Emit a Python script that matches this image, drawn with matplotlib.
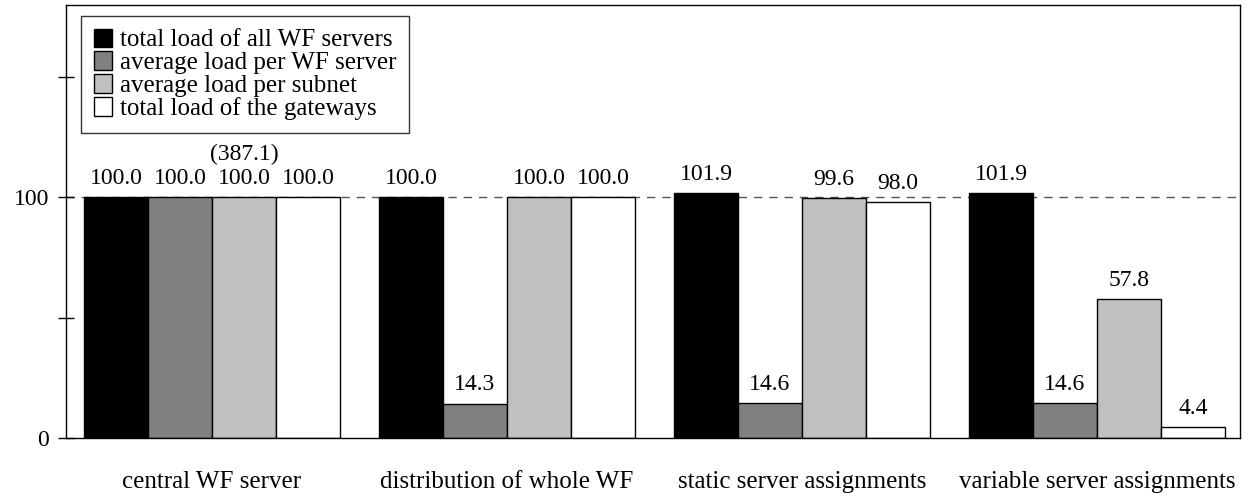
import matplotlib
matplotlib.use("Agg")
import matplotlib.pyplot as plt
import numpy as np
from matplotlib.patches import Patch

plt.rcParams['font.family'] = ['Liberation Serif', 'DejaVu Serif']

categories = ["central WF server", "distribution of whole WF",
              "static server assignments", "variable server assignments"]
series_names = ["total load of all WF servers", "average load per WF server",
                "average load per subnet", "total load of the gateways"]
total_wf = [100.0, 100.0, 101.9, 101.9]
avg_wf = [100.0, 14.3, 14.6, 14.6]
avg_subnet = [100.0, 100.0, 99.6, 57.8]
total_gw = [100.0, 100.0, 98.0, 4.4]
series = [total_wf, avg_wf, avg_subnet, total_gw]
colors = ["#000000", "#808080", "#c0c0c0", "#ffffff"]
extra_label = (0, 2, "(387.1)")

fig = plt.figure(figsize=(12.48, 4.96), dpi=100)
ax = fig.add_axes([66/1248, 1-438/496, (1240-66)/1248, (438-5)/496])

x = np.arange(len(categories))
w = 0.217
ax.axhline(100, color="#555555", linestyle=(0, (6, 5)), linewidth=1, zorder=0)
for i, (vals, c) in enumerate(zip(series, colors)):
    pos = x + (i - 1.5) * w
    ax.bar(pos, vals, width=w, color=c, edgecolor="black", linewidth=1, zorder=2)
    for p, v in zip(pos, vals):
        ax.annotate(f"{v:.1f}", (p, v), xytext=(0, 6), textcoords="offset points",
                    ha="center", va="bottom", fontsize=17)
g, s, t = extra_label
ax.annotate(t, (x[g] + (s - 1.5) * w, series[s][g]), xytext=(0, 23),
            textcoords="offset points", ha="center", va="bottom", fontsize=17)

ax.set_xlim(-0.495, 3.485)
ax.set_ylim(0, 180)
ax.set_yticks([0, 100])
ax.set_yticks([50, 150], minor=True)
ax.tick_params(axis='y', which='both', direction='inout', length=12, width=1, labelsize=17)
ax.tick_params(axis='y', which='major', pad=6)
ax.set_xticks(x)
ax.set_xticklabels(categories, fontsize=18)
ax.tick_params(axis='x', length=0, pad=24)
for sp in ax.spines.values():
    sp.set_linewidth(1)

handles = [Patch(facecolor=c, edgecolor="black", linewidth=1) for c in colors]
leg = ax.legend(handles, series_names, loc="upper left", bbox_to_anchor=(15/1174, 1-11/433),
                fontsize=18, frameon=True, fancybox=False, edgecolor="black",
                handlelength=0.75, handleheight=0.75, handletextpad=0.3, labelspacing=0.0,
                borderpad=0.5, borderaxespad=0)
leg.get_frame().set_linewidth(1)

fig.savefig("out.png", dpi=100)
